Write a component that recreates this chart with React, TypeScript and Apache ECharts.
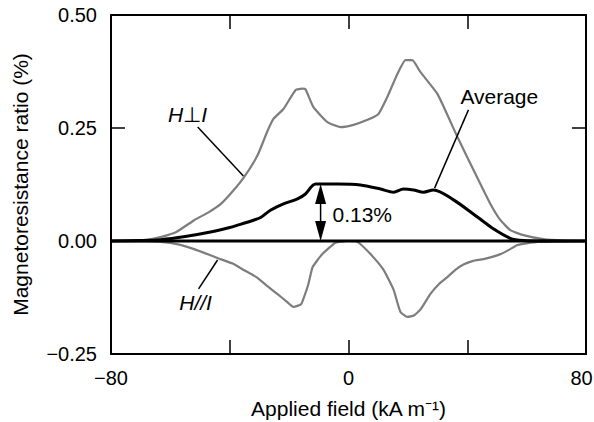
import React, { useEffect, useRef } from "react";
import * as echarts from "echarts";

// H ⊥ I curve
const perpX = [-80, -72, -66, -63, -58, -52, -47, -43, -39, -35.3, -30.6, -27.5, -25.3, -21.9, -17.8, -15.6, -14.5, -11.8, -7.1, -2.7, 1.7, 6.4, 10.1, 13.1, 16.5, 19.2, 21.5, 24.2, 30, 36.7, 43.4, 47.8, 51.2, 54.5, 58.9, 65.7, 72, 80];
const perpY = [0, 0.001, 0.005, 0.009, 0.02, 0.046, 0.064, 0.082, 0.11, 0.14, 0.19, 0.24, 0.27, 0.292, 0.334, 0.337, 0.336, 0.296, 0.263, 0.252, 0.257, 0.268, 0.281, 0.319, 0.37, 0.4, 0.4, 0.374, 0.325, 0.23, 0.14, 0.082, 0.046, 0.024, 0.013, 0.004, 0.001, 0];

// H // I curve
const paraX = [-80, -70, -63.3, -57, -52, -44, -39, -35.3, -31, -27.3, -24, -21, -18.5, -16, -15.2, -13.5, -12.1, -8.8, -4.4, -0.3, 3, 7.4, 11.8, 15.2, 17.5, 19.9, 22, 24.2, 27.6, 30.5, 33.3, 36, 38.7, 42, 45.5, 51.2, 54.5, 56.9, 60.3, 63.6, 70, 80];
const paraY = [0, -0.001, -0.002, -0.008, -0.018, -0.038, -0.05, -0.064, -0.08, -0.1, -0.117, -0.133, -0.146, -0.14, -0.128, -0.095, -0.058, -0.029, -0.004, 0, -0.002, -0.029, -0.064, -0.108, -0.157, -0.168, -0.165, -0.152, -0.117, -0.095, -0.08, -0.064, -0.052, -0.044, -0.04, -0.029, -0.018, -0.009, -0.005, -0.002, -0.001, 0];

// Average curve
const avgX = [-80, -70, -63.3, -55, -46.5, -40, -37.4, -32, -29.6, -26.3, -21.9, -17.2, -14.5, -11.1, -3.7, 4, 10.8, 15.2, 18.5, 21.9, 25.3, 28.6, 35.4, 43.4, 48.8, 54.5, 58.9, 65, 80];
const avgY = [0, 0.001, 0.003, 0.01, 0.02, 0.03, 0.035, 0.046, 0.052, 0.068, 0.082, 0.093, 0.104, 0.126, 0.126, 0.124, 0.115, 0.108, 0.115, 0.113, 0.108, 0.113, 0.091, 0.053, 0.027, 0.006, 0.001, 0, 0];

// baseline
const zeroX = [-80, 80];
const zeroY = [0, 0];

const xTicks = { min: -80, max: 80, interval: 40 };
const yTicks = { min: -0.25, max: 0.5, interval: 0.25 };

const diffValue = 0.13;
const arrowX = -9.4;
const arrowTop = 0.126;

const FONT = "'Liberation Sans', Arial, Helvetica, sans-serif";

const zip = (xs: number[], ys: number[]) => xs.map((x, i) => [x, ys[i]]);
const fmtMinus = (s: string) => s.replace("-", "\u2212");

export default function App() {
  const ref = useRef<HTMLDivElement>(null);
  useEffect(() => {
    if (!ref.current) return;
    const chart = echarts.init(ref.current, null, { renderer: "svg" });
    const grayLine = { color: "#7d7d7d", width: 2.2 };
    const axisCommon = {
      type: "value",
      axisLine: { show: true, onZero: false, lineStyle: { color: "#000", width: 2 } },
      axisTick: { show: true, inside: true, length: 14, lineStyle: { color: "#000", width: 1.5 } },
      splitLine: { show: false },
    };
    chart.setOption({
      animation: false,
      backgroundColor: "#fff",
      grid: { left: 111, right: 8, top: 15, bottom: 68, containLabel: false, outerBoundsMode: "none" },
      xAxis: [
        {
          ...axisCommon,
          ...xTicks,
          position: "bottom",
          name: "Applied field (kA m\u207B\u00B9)",
          nameLocation: "middle",
          nameGap: 44,
          nameTextStyle: { fontFamily: FONT, fontSize: 21, color: "#000" },
          axisLabel: {
            margin: 14,
            fontFamily: FONT,
            fontSize: 20,
            color: "#000",
            rich: { m: { fontFamily: FONT, fontSize: 20, color: "#000", padding: [0, 9, 0, 0] } },
            formatter: (v: number) =>
              v === xTicks.max ? `{m|${v}}` : v % 80 === 0 ? fmtMinus(String(v)) : "",
          },
        },
        {
          ...axisCommon,
          ...xTicks,
          position: "top",
          axisLabel: { show: false },
        },
      ],
      yAxis: [
        {
          ...axisCommon,
          ...yTicks,
          position: "left",
          name: "Magnetoresistance ratio (%)",
          nameLocation: "middle",
          nameGap: 80,
          nameTextStyle: { fontFamily: FONT, fontSize: 21, color: "#000" },
          axisLabel: {
            margin: 14,
            fontFamily: FONT,
            fontSize: 20,
            color: "#000",
            formatter: (v: number) => fmtMinus(v.toFixed(2)),
          },
        },
        {
          ...axisCommon,
          ...yTicks,
          position: "right",
          axisLabel: { show: false },
        },
      ],
      series: [
        {
          name: "H\u22A5I",
          type: "line",
          data: zip(perpX, perpY),
          showSymbol: false,
          smooth: 0.15,
          lineStyle: grayLine,
          z: 2,
        },
        {
          name: "H//I",
          type: "line",
          data: zip(paraX, paraY),
          showSymbol: false,
          smooth: 0.15,
          lineStyle: grayLine,
          z: 2,
        },
        {
          name: "zero",
          type: "line",
          data: zip(zeroX, zeroY),
          showSymbol: false,
          lineStyle: { color: "#000", width: 3 },
          z: 3,
        },
        {
          name: "Average",
          type: "line",
          data: zip(avgX, avgY),
          showSymbol: false,
          smooth: 0.3,
          lineStyle: { color: "#000", width: 3 },
          z: 4,
        },
      ],
    });

    const px = (x: number, y: number) => chart.convertToPixel({ seriesIndex: 0 }, [x, y]) as number[];
    const lineEl = (a: number[], b: number[]) => ({
      type: "line",
      shape: { x1: a[0], y1: a[1], x2: b[0], y2: b[1] },
      style: { stroke: "#000", lineWidth: 1.5 },
      z: 10,
    });
    const textEl = (p: number[], rich: any, text: string, align = "center") => ({
      type: "text",
      x: p[0],
      y: p[1],
      style: {
        text,
        rich,
        align,
        verticalAlign: "middle",
        fontFamily: FONT,
        fontSize: 21,
        fill: "#000",
      },
      z: 10,
    });
    const italic = { fontStyle: "italic", fontFamily: FONT, fontSize: 21, fill: "#000" };
    const upright = { fontFamily: FONT, fontSize: 21, fill: "#000" };

    const aTop = px(arrowX, arrowTop);
    const aBot = px(arrowX, 0);
    const headH = 20;
    const headW = 5.5;

    chart.setOption({
      graphic: [
        lineEl(px(-50.8, 0.252), px(-35.4, 0.144)),
        lineEl(px(-50.5, -0.106), px(-44.1, -0.042)),
        lineEl(px(40.4, 0.29), px(29, 0.117)),
        textEl(px(-54.2, 0.279), { i: italic, n: upright }, "{i|H}{n|\u22A5}{i|I}"),
        textEl(px(-51.5, -0.135), { i: italic }, "{i|H//I}"),
        textEl(px(50.8, 0.319), { n: upright }, "{n|Average}"),
        textEl(px(-5.4, 0.058), { n: upright }, `{n|${diffValue.toFixed(2)}%}`, "left"),
        lineEl([aTop[0], aTop[1] + headH - 2], [aBot[0], aBot[1] - headH + 2]),
        {
          type: "polygon",
          shape: { points: [[aTop[0], aTop[1]], [aTop[0] - headW, aTop[1] + headH], [aTop[0] + headW, aTop[1] + headH]] },
          style: { fill: "#000" },
          z: 10,
        },
        {
          type: "polygon",
          shape: { points: [[aBot[0], aBot[1]], [aBot[0] - headW, aBot[1] - headH], [aBot[0] + headW, aBot[1] - headH]] },
          style: { fill: "#000" },
          z: 10,
        },
      ],
    });

    return () => chart.dispose();
  }, []);
  return (
    <div
      ref={ref}
      style={{ position: "fixed", left: 0, top: 0, width: 594, height: 422, background: "#fff" }}
    />
  );
}
